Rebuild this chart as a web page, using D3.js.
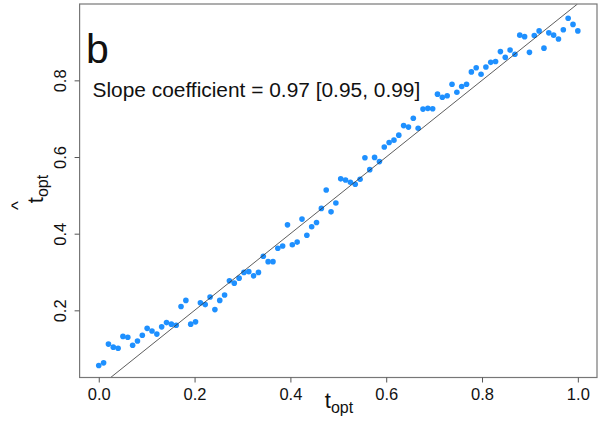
<!DOCTYPE html>
<html>
<head>
<meta charset="utf-8">
<script src="https://cdn.jsdelivr.net/npm/d3@7"></script>
<style>
  html, body { margin: 0; padding: 0; background: #fff; }
  svg { display: block; font-family: "Liberation Sans", Arial, sans-serif; }
</style>
</head>
<body>
<svg id="chart" width="598" height="421"></svg>
<script>
// True optimum (evenly spaced on [0, 1]) and its estimate
const tOpt = d3.range(100).map(i => i / 99);
const tHat = [
  0.056, 0.063, 0.112, 0.104, 0.101, 0.132, 0.130, 0.109, 0.120, 0.135,
  0.153, 0.146, 0.138, 0.157, 0.168, 0.164, 0.161, 0.210, 0.226, 0.164,
  0.170, 0.220, 0.215, 0.235, 0.202, 0.226, 0.240, 0.277, 0.271, 0.284,
  0.299, 0.301, 0.290, 0.299, 0.341, 0.327, 0.327, 0.362, 0.368, 0.423,
  0.371, 0.378, 0.438, 0.396, 0.418, 0.429, 0.466, 0.514, 0.457, 0.480,
  0.543, 0.540, 0.534, 0.529, 0.542, 0.598, 0.567, 0.599, 0.588, 0.626,
  0.638, 0.644, 0.657, 0.682, 0.678, 0.701, 0.675, 0.725, 0.727, 0.726,
  0.764, 0.756, 0.760, 0.790, 0.769, 0.784, 0.790, 0.822, 0.833, 0.816,
  0.835, 0.847, 0.849, 0.875, 0.860, 0.879, 0.868, 0.918, 0.914, 0.873,
  0.917, 0.929, 0.884, 0.924, 0.918, 0.908, 0.932, 0.962, 0.946, 0.929
];
const xTicks = [0.0, 0.2, 0.4, 0.6, 0.8, 1.0];
const yTicks = [0.2, 0.4, 0.6, 0.8];
const panelLabel = "b";
const slopeText = "Slope coefficient = 0.97 [0.95, 0.99]";

const svg = d3.select("#chart");
const pLeft = 79.6, pRight = 597, pTop = 4, pBottom = 377.5;

const x = d3.scaleLinear().domain([-0.04, 1.04]).range([pLeft, pRight]);
const y = d3.scaleLinear().domain([0.0248, 0.9992]).range([pBottom, pTop]);

svg.append("defs").append("clipPath").attr("id", "plotclip")
  .append("rect").attr("x", pLeft).attr("y", pTop)
  .attr("width", pRight - pLeft).attr("height", pBottom - pTop);

// Points
svg.append("g")
  .selectAll("circle")
  .data(tOpt.map((t, i) => [t, tHat[i]]))
  .join("circle")
  .attr("cx", d => x(d[0]))
  .attr("cy", d => y(d[1]))
  .attr("r", 2.8)
  .attr("fill", "#1E90FF");

// Identity line
const lo = y.domain()[0], hi = y.domain()[1];
svg.append("line")
  .attr("clip-path", "url(#plotclip)")
  .attr("x1", x(lo)).attr("y1", y(lo))
  .attr("x2", x(hi)).attr("y2", y(hi))
  .attr("stroke", "#333").attr("stroke-width", 0.8);

// Frame
svg.append("rect")
  .attr("x", pLeft).attr("y", pTop)
  .attr("width", pRight - pLeft).attr("height", pBottom - pTop)
  .attr("fill", "none").attr("stroke", "#777").attr("stroke-width", 1.2);

// X axis
const xAxis = d3.axisBottom(x).tickValues(xTicks).tickFormat(d3.format(".1f"))
  .tickSize(5).tickSizeOuter(0);
const gx = svg.append("g").attr("transform", `translate(0,${pBottom})`).call(xAxis);
gx.select(".domain").remove();
gx.selectAll(".tick line").attr("stroke", "#555");
gx.selectAll(".tick text")
  .attr("y", 22.5).attr("dy", 0)
  .attr("font-size", 16.5).attr("fill", "#111")
  .attr("font-family", "Liberation Sans, Arial, sans-serif");

// Y axis with rotated labels
const yAxis = d3.axisLeft(y).tickValues(yTicks).tickFormat(d3.format(".1f"))
  .tickSize(5).tickSizeOuter(0);
const gy = svg.append("g").attr("transform", `translate(${pLeft},0)`).call(yAxis);
gy.select(".domain").remove();
gy.selectAll(".tick line").attr("stroke", "#555");
gy.selectAll(".tick text")
  .attr("x", 0).attr("dy", 0)
  .attr("transform", "translate(-13.5,0) rotate(-90)")
  .attr("text-anchor", "middle")
  .attr("font-size", 16.5).attr("fill", "#111")
  .attr("font-family", "Liberation Sans, Arial, sans-serif");

// X title: t_opt
const xt = svg.append("text")
  .attr("x", 339).attr("y", 407.5)
  .attr("text-anchor", "middle")
  .attr("fill", "#111");
xt.append("tspan").attr("font-size", 22).text("t");
xt.append("tspan").attr("font-size", 16).attr("dy", 5).text("opt");

// Y title: t-hat_opt (rotated)
const yt = svg.append("g").attr("transform", "translate(42.5,189) rotate(-90)");
const ytt = yt.append("text").attr("text-anchor", "middle").attr("fill", "#111");
ytt.append("tspan").attr("font-size", 22).text("t");
ytt.append("tspan").attr("font-size", 16).attr("dy", 5).text("opt");
yt.append("text")
  .attr("x", -16.5).attr("y", -18.5)
  .attr("text-anchor", "middle")
  .attr("font-size", 19).attr("fill", "#111")
  .text("^");

// Panel label and slope annotation
svg.append("text")
  .attr("x", 86).attr("y", 63)
  .attr("font-size", 41).attr("fill", "#111")
  .text(panelLabel);
svg.append("text")
  .attr("x", 92.5).attr("y", 97)
  .attr("font-size", 20.9).attr("fill", "#111")
  .text(slopeText);
</script>
</body>
</html>
